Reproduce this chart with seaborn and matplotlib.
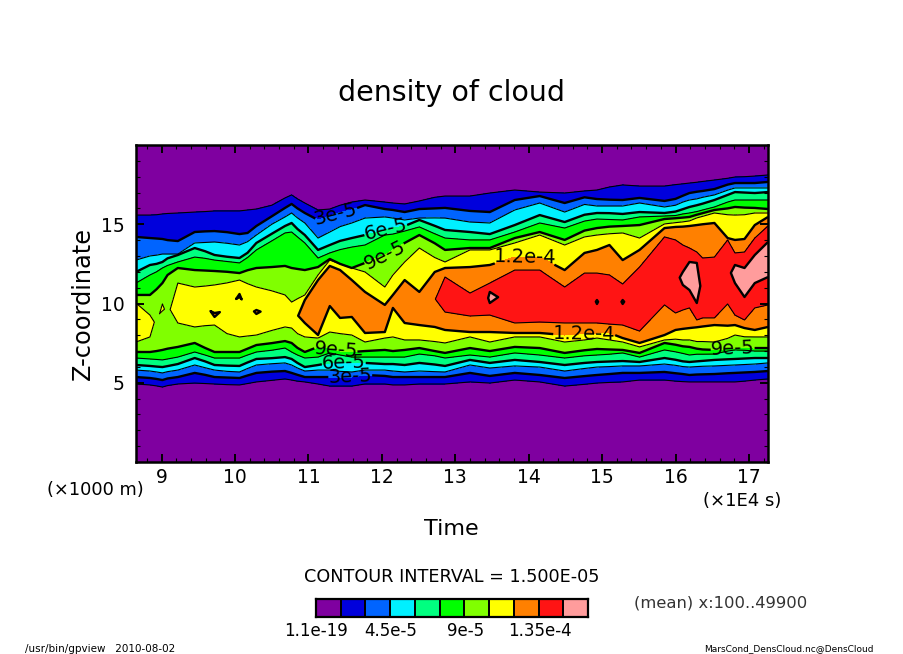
import numpy as np
import seaborn as sns
import matplotlib
matplotlib.use('Agg')
import matplotlib.pyplot as plt
from matplotlib.colors import BoundaryNorm, ListedColormap
from matplotlib.ticker import MultipleLocator

nan = float('nan')

# time of each read column (x1E4 s)
time = [8.65,8.84,8.93,9.01,9.08, 9.22,9.45,9.59,9.72,9.89, 10.06,10.17,10.29,10.5,10.68, 10.77,10.85,10.95,11.13,11.29,
        11.43,11.59,11.77,12.04,12.15, 12.31,12.51,12.72,12.86,13.2, 13.47,13.81,14.15,14.49,14.76, 14.93,15.1,15.28,15.51,15.85,
        16.0,16.1,16.19,16.29,16.37, 16.53,16.71,16.81,16.94,17.08, 17.26]

# highest density reached in each column (x1e-5)
peak = [11.3,10.9,10.3,10.7,10.2, 11.4,11.6,11.6,12.3,11.6, 12.15,11.6,12.15,11.6,11.5, 11.4,11.9,13,13,13,
        13,13,13,12.8,13, 13,13.2,13.45,14.3,13.9, 15.1,14.8,14.8,14.8,14.5, 15.05,14.5,15.05,14.5,14.5,
        14.6,15.3,15.6,15.6,14.6, 14.5,14.6,15.5,15.7,15.8, 15.6]

# height (x1000 m) where each contour crosses each column, upper side of the cloud (nan: not reached)
top_1p5 = [15.58,15.58,15.6,15.65,15.68, 15.71,15.77,15.8,15.84,15.84, 15.84,15.9,15.96,16.2,16.66, 16.85,16.6,16.34,15.9,15.96,
           16.2,16.4,16.53,16.4,16.34, 16.28,16.47,16.7,16.78,16.78, 16.97,17.16,17.03,16.97,17.1, 17.16,17.35,17.48,17.41,17.41,
           17.5,17.55,17.6,17.65,17.7, 17.79,17.9,17.98,18.0,18.04, 18.11]
top_3 = [14.2,14.13,14.1,14.07,14.0, 13.94,14.51,14.55,14.57,14.5, 14.38,14.45,14.89,15.5,16.03, 16.28,16.0,15.71,15.27,15.52,
         15.75,15.9,16.21,15.96,15.9, 15.77,15.96,16.0,16.03,15.84, 15.77,16.53,16.78,16.34,16.7, 16.59,16.55,16.53,16.66,16.47,
         16.6,16.8,16.97,17.05,17.1, 17.22,17.5,17.6,17.6,17.6, 17.67]
top_4p5 = [12.74,13,13.05,13.12,13.12, 13.12,13.82,13.85,13.88,13.8, 13.69,13.9,14.32,15.0,15.46, 15.71,15.4,15.08,14.13,14.51,
           14.85,15.08,15.39,15.46,15.39, 15.27,15.39,15.4,15.39,15.14, 15.08,15.9,16.34,15.77,16.25, 16.15,16.15,16.15,16.34,16.09,
           16.2,16.4,16.53,16.6,16.7, 16.85,17.15,17.29,17.29,17.29, 17.29]
top_6 = [11.99,12.43,12.5,12.62,12.85, 13.06,13.5,13.3,13.06,12.95, 12.87,13.2,13.82,14.4,14.89, 15.08,14.7,14.32,13.38,13.69,
         13.95,14.13,14.32,14.64,14.76, 14.89,15.27,14.9,14.64,14.51, 14.38,14.95,15.58,15.14,15.6, 15.71,15.7,15.65,15.77,15.71,
         15.8,15.95,16.09,16.2,16.3, 16.53,16.85,17.03,17.0,16.97, 17.03]
top_7p5 = [11.29,11.8,12.0,12.24,12.4, 12.62,12.93,12.85,12.74,12.65, 12.56,12.9,13.38,13.95,14.45, 14.51,14.2,13.82,12.87,13.19,
           13.4,13.56,13.69,14.32,14.38, 14.57,14.83,14.4,14.13,14.01, 14.01,14.51,15.08,14.76,15.2, 15.33,15.3,15.27,15.46,15.52,
           15.55,15.65,15.71,15.8,15.9, 16.09,16.4,16.53,16.53,16.53, 16.53]
top_9 = [10.54,10.54,10.9,11.29,11.8, 12.24,12.11,12.08,12.05,12.0, 11.92,12.1,12.24,12.3,12.37, 12.24,12.18,12.11,12.3,12.81,
         12.5,12.24,12.56,13.06,13.38, 13.82,14.32,13.8,13.38,13.5, 13.5,14.13,14.51,14.01,14.6, 14.76,14.85,14.89,14.95,15.33,
         15.38,15.42,15.46,15.6,15.7, 15.9,16.0,16.09,16.05,16.03, 15.96]
top_10p5 = [10.03,9.27,nan,9.97,nan, 11.29,11.04,11.1,11.17,11.3, 11.48,11.25,11.04,10.8,10.54, 10.09,10.3,10.54,11.8,12.74,
            12.5,12.24,11.99,11.04,11.8, 12.62,13.5,12.9,12.62,13.38, 13.38,13.82,14.32,13.69,14.2, 14.32,14.4,14.45,14.13,15.02,
            15.1,15.15,15.21,15.4,15.5, 15.71,15.6,15.58,15.6,15.71, 15.71]
top_12 = [nan,nan,nan,nan,nan, nan,nan,nan,9.4,nan, 10.6,nan,9.59,nan,nan, nan,nan,10.22,11.48,12.37,
          12.11,11.48,10.73,9.91,10.54, 11.48,10.73,11.99,12.24,12.3, 12.43,12.93,12.93,12.11,13.19, 13.38,13.69,12.74,13.38,14.76,
          14.83,14.85,14.89,14.95,15.0, 15.08,14.13,14.01,14.07,14.95, 15.46]
top_13p5 = [nan]*28 + [11.67,10.66, 11.29,12.11,12.11,11.04,11.92, 11.92,11.8,11.23,12.3,14.2,
                       14.01,13.69,13.5,13.25,12.87, 12.93,14.01,13.19,13.25,14.13, 14.89]
top_15 = [nan]*30 + [10.73,nan,nan,nan,nan, 10.22,nan,10.22,nan,nan,
                     nan,11.99,12.62,12.56,nan, nan,nan,12.43,12.24,13.06, 13.88]

# same contours, lower side of the cloud
low_15 = [nan]*30 + [10.03,nan,nan,nan,nan, 9.97,nan,9.97,nan,nan,
                     nan,11.17,10.85,10.03,nan, nan,nan,11.29,10.41,11.29, 11.67]
low_13p5 = [nan]*28 + [9.46,9.21, 9.27,8.77,8.83,8.77,8.77, 8.77,8.7,8.64,8.26,9.91,
                       9.4,9.59,9.72,8.96,9.09, 9.09,9.97,9.27,8.96,9.72, 9.91]
low_12 = [nan,nan,nan,nan,nan, nan,nan,nan,9.15,nan, 10.41,nan,9.34,nan,nan, nan,nan,8.77,8.01,9.84,
          9.09,9.15,8.14,8.2,9.72, 8.77,8.64,8.52,8.33,8.2, 8.2,8.14,8.14,8.01,8.1, 8.14,8.14,7.82,7.51,8.01,
          8.33,8.4,8.45,8.5,8.55, 8.64,8.6,8.64,8.45,8.33, 8.52]
low_10p5 = [7.57,7.89,nan,9.53,nan, 8.77,8.52,8.6,8.64,8.1, 7.89,7.95,8.01,8.3,8.52, 8.45,8.1,7.89,7.82,8.2,
            8.1,8.01,7.57,7.82,7.89, 7.7,7.7,7.6,7.51,7.89, 7.57,7.89,7.89,7.57,7.7, 7.82,7.7,7.57,7.26,7.7,
            7.75,7.7,7.7,7.6,7.6, 7.57,7.8,8.01,7.9,7.89, 7.89]
low_9 = [6.94,6.94,7.0,7.07,7.15, 7.26,7.51,7.2,6.94,6.94, 6.94,7.15,7.38,7.5,7.63, 7.51,7.2,6.94,7.26,7.19,
         7.0,6.94,7,7.07,7, 7.07,7.19,7.0,6.88,7.19, 7,7.26,7.19,6.88,7.05, 7.13,7.1,7.07,6.88,7.51,
         7.4,7.3,7.26,7.15,7.1, 7.07,7.15,7.19,7.2,7.19, 7.19]
low_7p5 = [6.56,6.5,6.47,6.44,6.5, 6.62,6.94,6.75,6.56,6.56, 6.56,6.75,6.94,7.05,7.19, 6.94,6.75,6.56,6.62,6.88,
           6.75,6.62,6.62,6.62,6.62, 6.62,6.81,6.7,6.56,6.75, 6.62,6.88,6.75,6.56,6.7, 6.75,6.8,6.88,6.62,7.07,
           6.95,6.85,6.75,6.8,6.8, 6.81,7.0,7.07,7.05,7, 7]
low_6 = [6.12,6.06,6.02,5.99,6.05, 6.18,6.56,6.35,6.12,6.08, 6.06,6.28,6.5,6.55,6.62, 6.5,6.25,5.99,6.12,6.25,
         6.25,6.25,6.25,6.18,6.18, 6.12,6.25,6.15,6.06,6.44, 6.25,6.44,6.31,6.12,6.25, 6.31,6.34,6.37,6.31,6.56,
         6.45,6.35,6.31,6.35,6.38, 6.44,6.48,6.5,6.53,6.56, 6.56]
low_4p5 = [5.8,5.74,5.68,5.62,5.7, 5.8,6.12,5.95,5.8,5.72, 5.68,5.9,6.12,6.2,6.25, 6.12,5.93,5.74,5.8,5.8,
           5.72,5.68,5.8,5.8,5.74, 5.68,5.74,5.7,5.68,6.12, 5.93,6.06,5.99,5.74,5.9, 5.99,6.02,6.06,6.06,6.18,
           6.1,6.02,5.99,6.02,6.04, 6.06,6.1,6.12,6.15,6.18, 6.25]
low_3 = [5.36,5.3,5.24,5.17,5.27, 5.36,5.62,5.5,5.36,5.33, 5.3,5.46,5.62,5.7,5.74, 5.62,5.5,5.36,5.36,5.36,
         5.36,5.36,5.49,5.43,5.36, 5.36,5.36,5.36,5.36,5.62, 5.43,5.62,5.49,5.3,5.42, 5.49,5.55,5.62,5.62,5.68,
         5.6,5.55,5.49,5.52,5.53, 5.55,5.6,5.62,5.65,5.68, 5.74]
low_1p5 = [4.92,4.86,4.8,4.73,4.82, 4.92,4.98,4.95,4.92,4.88, 4.86,4.95,5.05,5.15,5.24, 5.17,5.1,5.05,4.92,4.79,
           4.79,4.79,4.92,4.92,4.86, 4.86,4.92,4.92,4.92,5.05, 4.98,5.17,5.05,4.79,4.9, 4.98,5.02,5.05,5.17,5.17,
           5.1,5.07,5.05,5.05,5.05, 5.05,5.05,5.05,5.1,5.17, 5.24]

levels = [1.5, 3, 4.5, 6, 7.5, 9, 10.5, 12, 13.5, 15]
colors = ['#7f00a0', '#0000dc', '#0064ff', '#00f0ff', '#00ff80', '#00ff00',
          '#80ff00', '#ffff00', '#ff8000', '#ff1414', '#ff9c9c']
colorbar_labels = ['1.1e-19', '4.5e-5', '9e-5', '1.35e-4']

lows = [low_1p5, low_3, low_4p5, low_6, low_7p5, low_9, low_10p5, low_12, low_13p5, low_15]
tops = [top_1p5, top_3, top_4p5, top_6, top_7p5, top_9, top_10p5, top_12, top_13p5, top_15]

sns.set_theme(style='white')
plt.rcParams['font.family'] = ['DejaVu Sans']
plt.rcParams['text.color'] = 'black'
plt.rcParams['axes.labelcolor'] = 'black'
plt.rcParams['xtick.color'] = 'black'
plt.rcParams['ytick.color'] = 'black'

peak = np.array(peak)
t = np.array(time)
n = len(t)
low_arr = np.array(lows, dtype=float)
top_arr = np.array(tops, dtype=float)

# levels a column never reaches collapse onto the middle of its last closed contour
core = np.zeros(n)
for j in range(n):
    i = np.where(~np.isnan(low_arr[:, j]))[0].max()
    core[j] = (low_arr[i, j] + top_arr[i, j]) / 2
    low_arr[i + 1:, j] = core[j]
    top_arr[i + 1:, j] = core[j]

# mesh rows follow the contours, so thin layers stay connected between columns
Z = np.vstack([np.zeros(n), low_arr, core, top_arr[::-1], np.full(n, 20.0)])
V = np.vstack([np.zeros(n)] + [np.minimum(l, peak) for l in levels] + [peak] +
              [np.minimum(l, peak) for l in levels[::-1]] + [np.zeros(n)])
T = np.tile(t, (Z.shape[0], 1))

cmap = ListedColormap(sns.color_palette(colors))
bounds = [-1] + levels + [99]
norm = BoundaryNorm(bounds, cmap.N)

fig = plt.figure(figsize=(9.04, 6.54), dpi=100)
W, H = 904.0, 654.0
ax = fig.add_axes([136 / W, 1 - 462 / H, 632 / W, 317 / H])

ax.contourf(T, Z, V, levels=bounds, cmap=cmap, norm=norm, antialiased=False)
ax.contour(T, Z, V, levels=[1.5, 4.5, 7.5, 10.5, 13.5], colors='black', linewidths=0.8)
cs = ax.contour(T, Z, V, levels=[3, 6, 9, 12, 15], colors='black', linewidths=1.7)
labs = ax.clabel(cs, levels=[3, 6, 9, 12], fmt={3: '3e-5', 6: '6e-5', 9: '9e-5', 12: '1.2e-4'}, fontsize=14,
                 inline=True, inline_spacing=0,
                 manual=[(11.38, 15.58), (12.05, 14.7), (12.04, 13.06), (13.95, 12.43), (14.76, 8.01),
                         (11.37, 7.07), (11.48, 6.06), (11.57, 5.3), (16.78, 7.07)])

ax.set_xlim(8.65, 17.26)
ax.set_ylim(0, 20)
ax.set_axisbelow(False)
ax.set_yticks([5, 10, 15])
ax.set_xticks(range(9, 18))
ax.xaxis.set_minor_locator(MultipleLocator(0.2))
ax.yaxis.set_minor_locator(MultipleLocator(1))
ax.tick_params(which='major', direction='in', length=6, width=1.4, top=True, right=True, bottom=True, left=True,
               labelsize=13.5)
ax.tick_params(axis='x', which='major', pad=4)
ax.tick_params(axis='y', which='major', pad=8)
ax.tick_params(which='minor', direction='in', length=3, width=0.8, top=True, right=True, bottom=True, left=True)
for s in ax.spines.values():
    s.set_linewidth(1.8)
    s.set_visible(True)
    s.set_color('black')


def px_text(x, y, s, **kw):
    fig.text(x / W, 1 - y / H, s, va='center', **kw)


px_text(452, 93, 'density of cloud', ha='center', fontsize=20.5)
px_text(83, 303, 'Z-coordinate', ha='center', rotation=90, fontsize=17.3)
px_text(451, 529, 'Time', ha='center', fontsize=16)
px_text(95, 490, '(×1000 m)', ha='center', fontsize=12.8)
px_text(742, 501, '(×1E4 s)', ha='center', fontsize=13)
px_text(452, 577, 'CONTOUR INTERVAL = 1.500E-05', ha='center', fontsize=12.7)
px_text(634, 603, '(mean) x:100..49900', ha='left', fontsize=11.8, color='#333333')
px_text(25, 649, '/usr/bin/gpview   2010-08-02', ha='left', fontsize=7.5)
px_text(874, 649, 'MarsCond_DensCloud.nc@DensCloud', ha='right', fontsize=6.5)

# colour key below the plot
cax = fig.add_axes([316 / W, 1 - 617 / H, 272 / W, 18 / H])
sns.heatmap(np.arange(len(colors)).reshape(1, -1), cmap=cmap, cbar=False, linewidths=1.2, linecolor='black',
            xticklabels=False, yticklabels=False, ax=cax)
for s in cax.spines.values():
    s.set_visible(True)
    s.set_linewidth(1.6)
    s.set_color('black')
for i, lab in enumerate(colorbar_labels):
    px_text(316 + i * 74.7, 631, lab, ha='center', fontsize=12)

fig.savefig('out.png', dpi=100)
